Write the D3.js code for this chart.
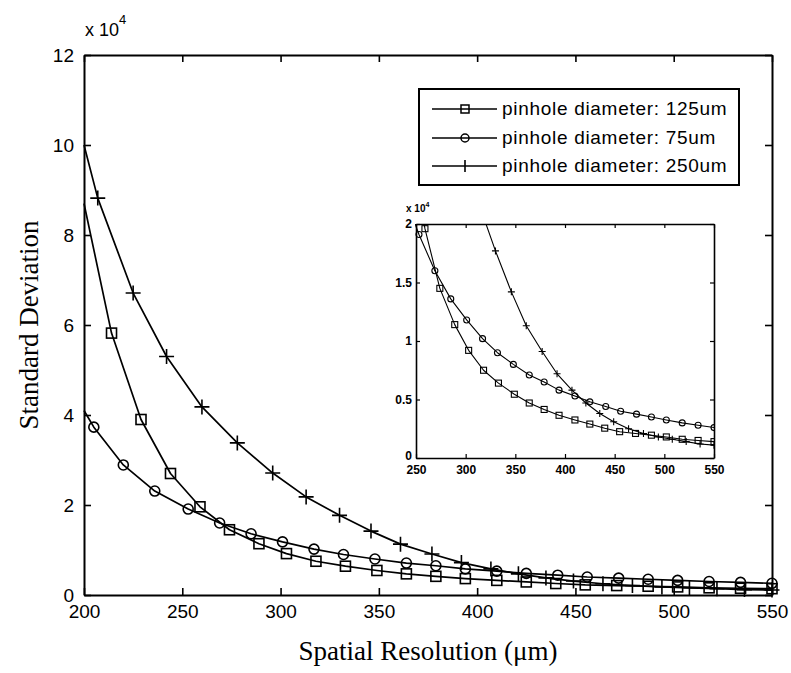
<!DOCTYPE html>
<html>
<head>
<meta charset="utf-8">
<script src="https://cdn.jsdelivr.net/npm/d3@7"></script>
<style>
  body { margin: 0; background: #fff; }
  svg { display: block; }
</style>
</head>
<body>
<svg id="chart" width="791" height="673"></svg>
<script>
// Standard deviation (in units of 10^4) versus spatial resolution (µm)
const seriesLabels = [
  "pinhole diameter: 125um",
  "pinhole diameter: 75um",
  "pinhole diameter: 250um"
];

const res125 = [200, 214, 229, 244, 259, 274, 289, 303, 318, 333, 349, 364, 379, 394, 410, 425, 440, 455, 471, 487, 502, 518, 534, 550];
const sd125  = [8.7, 5.82, 3.9, 2.7, 1.96, 1.45, 1.14, 0.92, 0.75, 0.64, 0.545, 0.47, 0.415, 0.365, 0.325, 0.29, 0.255, 0.225, 0.21, 0.195, 0.18, 0.16, 0.15, 0.14];

const res75 = [200, 205, 220, 236, 253, 269, 285, 301, 317, 332, 348, 364, 379, 394, 410, 425, 441, 456, 472, 487, 502, 518, 534, 550];
const sd75  = [4.1, 3.73, 2.89, 2.31, 1.91, 1.6, 1.36, 1.18, 1.02, 0.9, 0.8, 0.71, 0.65, 0.58, 0.53, 0.48, 0.44, 0.4, 0.375, 0.35, 0.325, 0.3, 0.28, 0.26];

const res250 = [200, 207, 225, 242, 260, 278, 296, 313, 330, 346, 361, 377, 392, 407, 421, 435, 449, 464, 479, 494, 508, 522, 536, 550];
const sd250  = [10.0, 8.82, 6.71, 5.3, 4.18, 3.38, 2.71, 2.18, 1.77, 1.42, 1.13, 0.91, 0.72, 0.58, 0.47, 0.38, 0.31, 0.25, 0.21, 0.18, 0.16, 0.14, 0.12, 0.11];

const markerTypes = ["square", "circle", "plus"];

const xTicks = [200, 250, 300, 350, 400, 450, 500, 550];
const yTicks = [0, 2, 4, 6, 8, 10, 12];
const insetXTicks = [250, 300, 350, 400, 450, 500, 550];
const insetYTicks = [0, 0.5, 1, 1.5, 2];

const series = [
  { label: seriesLabels[0], marker: markerTypes[0], pts: res125.map((r, i) => ({ x: r, y: sd125[i] })) },
  { label: seriesLabels[1], marker: markerTypes[1], pts: res75.map((r, i) => ({ x: r, y: sd75[i] })) },
  { label: seriesLabels[2], marker: markerTypes[2], pts: res250.map((r, i) => ({ x: r, y: sd250[i] })) }
];

const svg = d3.select("#chart");

function drawMarker(g, type, cx, cy, s, sw) {
  if (type === "square") {
    g.append("rect").attr("x", cx - s / 2).attr("y", cy - s / 2)
      .attr("width", s).attr("height", s)
      .attr("fill", "none").attr("stroke", "#000").attr("stroke-width", sw);
  } else if (type === "circle") {
    g.append("circle").attr("cx", cx).attr("cy", cy).attr("r", s / 2)
      .attr("fill", "none").attr("stroke", "#000").attr("stroke-width", sw);
  } else {
    g.append("path")
      .attr("d", `M${cx - s / 2},${cy}H${cx + s / 2}M${cx},${cy - s / 2}V${cy + s / 2}`)
      .attr("stroke", "#000").attr("stroke-width", sw).attr("fill", "none");
  }
}

function drawSeries(g, x, y, opts) {
  const line = d3.line().x(d => x(d.x)).y(d => y(d.y)).curve(d3.curveLinear);
  series.forEach(s => {
    g.append("path").datum(s.pts).attr("d", line)
      .attr("fill", "none").attr("stroke", "#000").attr("stroke-width", opts.lw)
      .attr("stroke-linejoin", "round");
    const mg = g.append("g");
    s.pts.forEach((p, i) => {
      if (i === 0) return;
      const size = s.marker === "square" ? opts.sq : s.marker === "circle" ? opts.ci : opts.pl;
      drawMarker(mg, s.marker, x(p.x), y(p.y), size, opts.mw);
    });
  });
}

function boxAxes(g, x, y, w, h, xt, yt, tick, fmtX, fmtY, cls) {
  g.append("g").attr("transform", `translate(0,${h})`)
    .call(d3.axisBottom(x).tickValues(xt).tickSize(-tick).tickSizeOuter(0).tickPadding(cls.padX).tickFormat(fmtX))
    .call(a => a.selectAll("text").attr("class", cls.text));
  g.append("g")
    .call(d3.axisLeft(y).tickValues(yt).tickSize(-tick).tickSizeOuter(0).tickPadding(cls.padY).tickFormat(fmtY))
    .call(a => a.selectAll("text").attr("class", cls.text));
  g.append("g")
    .call(d3.axisTop(x).tickValues(xt).tickSize(-tick).tickSizeOuter(0).tickFormat(""));
  g.append("g").attr("transform", `translate(${w},0)`)
    .call(d3.axisRight(y).tickValues(yt).tickSize(-tick).tickSizeOuter(0).tickFormat(""));
  g.selectAll(".domain").attr("stroke", "#000").attr("stroke-width", cls.frame);
  g.selectAll(".tick line").attr("stroke", "#000").attr("stroke-width", cls.tickW);
}

// ---- main panel ----
const M = { left: 84, top: 55, right: 772, bottom: 595 };
const W = M.right - M.left, H = M.bottom - M.top;
const x = d3.scaleLinear().domain([200, 550]).range([0, W]);
const y = d3.scaleLinear().domain([0, 12]).range([H, 0]);

const main = svg.append("g").attr("transform", `translate(${M.left},${M.top})`);
drawSeries(main, x, y, { lw: 1.7, mw: 1.6, sq: 10, ci: 10, pl: 15 });
boxAxes(main, x, y, W, H, xTicks, yTicks, 7, d3.format("d"), d3.format("d"),
  { text: "tick-main", padX: 10, padY: 10, frame: 2, tickW: 1.6 });
main.selectAll(".tick-main")
  .attr("font-family", "'Liberation Sans', Arial, sans-serif")
  .attr("font-size", 19).attr("fill", "#000");

// exponent note above the y axis
const expo = svg.append("text").attr("x", 85).attr("y", 36)
  .attr("font-family", "'Liberation Sans', Arial, sans-serif").attr("font-size", 18).attr("fill", "#000");
expo.append("tspan").text("x 10");
expo.append("tspan").attr("dy", -12).attr("font-size", 13).text("4");

// axis titles
svg.append("text")
  .attr("x", (M.left + M.right) / 2).attr("y", 660)
  .attr("text-anchor", "middle")
  .attr("font-family", "'Liberation Serif', 'Times New Roman', serif")
  .attr("font-size", 27).attr("fill", "#000")
  .text("Spatial Resolution (\u03bcm)");
svg.append("text")
  .attr("transform", `translate(38,${(M.top + M.bottom) / 2}) rotate(-90)`)
  .attr("text-anchor", "middle")
  .attr("font-family", "'Liberation Serif', 'Times New Roman', serif")
  .attr("font-size", 27).attr("fill", "#000")
  .text("Standard Deviation");

// ---- legend ----
const L = { x: 419, y: 89, w: 320, h: 96 };
const leg = svg.append("g");
leg.append("rect").attr("x", L.x).attr("y", L.y).attr("width", L.w).attr("height", L.h)
  .attr("fill", "#fff").attr("stroke", "#000").attr("stroke-width", 2);
const rowY = [109, 138, 166];
series.forEach((s, i) => {
  const ry = rowY[i];
  leg.append("line").attr("x1", 432).attr("x2", 497).attr("y1", ry).attr("y2", ry)
    .attr("stroke", "#000").attr("stroke-width", 1.6);
  if (s.marker === "plus") {
    leg.append("line").attr("x1", 465).attr("x2", 465).attr("y1", ry - 6).attr("y2", ry + 6)
      .attr("stroke", "#000").attr("stroke-width", 1.6);
  } else {
    drawMarker(leg, s.marker, 465, ry, 8, 1.5);
  }
  leg.append("text").attr("x", 502).attr("y", ry + 6)
    .attr("font-family", "'Liberation Sans', Arial, sans-serif")
    .attr("font-size", 19).attr("letter-spacing", 0.7).attr("fill", "#000")
    .text(s.label);
});

// ---- inset: zoom on 250–550 µm ----
const I = { left: 416, top: 224, right: 714, bottom: 458 };
const IW = I.right - I.left, IH = I.bottom - I.top;
const xi = d3.scaleLinear().domain([250, 550]).range([0, IW]);
const yi = d3.scaleLinear().domain([0, 2]).range([IH, 0]);
const inset = svg.append("g").attr("transform", `translate(${I.left},${I.top})`);
inset.append("rect").attr("width", IW).attr("height", IH).attr("fill", "#fff");
svg.append("clipPath").attr("id", "insetClip")
  .append("rect").attr("x", -1).attr("y", 0).attr("width", IW + 2).attr("height", IH + 1);
const insetPlot = inset.append("g").attr("clip-path", "url(#insetClip)");
drawSeries(insetPlot, xi, yi, { lw: 1.1, mw: 1.1, sq: 6, ci: 6, pl: 7 });
boxAxes(inset, xi, yi, IW, IH, insetXTicks, insetYTicks, 4, d3.format("d"), d => d3.format("")(d),
  { text: "tick-inset", padX: 7, padY: 4, frame: 1.6, tickW: 1.2 });
inset.selectAll(".tick-inset")
  .attr("font-family", "'Liberation Sans', Arial, sans-serif")
  .attr("font-size", 12).attr("font-weight", "bold").attr("fill", "#000");
// keep the corner "0" clear of the first x label
inset.selectAll(".tick-inset").filter(d => d === 0).attr("dy", "0.1em");

const expoI = svg.append("text").attr("x", 406).attr("y", 212)
  .attr("font-family", "'Liberation Sans', Arial, sans-serif").attr("font-size", 10)
  .attr("font-weight", "bold").attr("fill", "#000");
expoI.append("tspan").text("x 10");
expoI.append("tspan").attr("dy", -5).attr("font-size", 7).text("4");
</script>
</body>
</html>
